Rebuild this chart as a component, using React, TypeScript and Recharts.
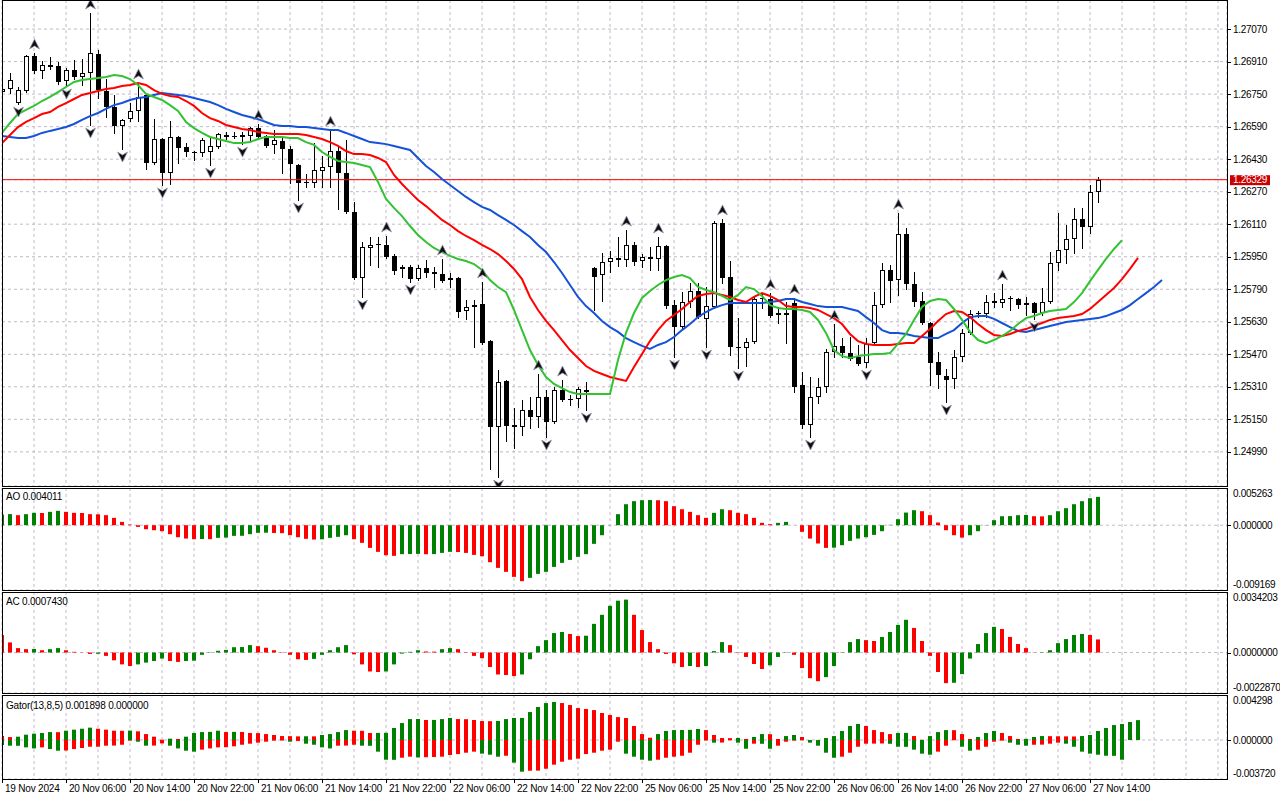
import React from "react";
import { ComposedChart, Bar, Line, XAxis, YAxis, CartesianGrid, Cell, ReferenceLine } from "recharts";

// ---------- price data (H1 bars, 19 Nov 22:00 .. 27 Nov 15:00) ----------
const opens = [
  1.2676, 1.26775, 1.26706, 1.26765, 1.26937, 1.26864, 1.26893, 1.26888, 1.26815, 1.26869,
  1.26834, 1.26854, 1.26947, 1.26765, 1.26687, 1.26593, 1.26627, 1.26667, 1.26746, 1.26411,
  1.26529, 1.26362, 1.26539, 1.2649, 1.26465, 1.2646, 1.26465, 1.2649, 1.26549, 1.26544,
  1.26549, 1.26544, 1.26583, 1.26544, 1.265, 1.26519, 1.2648, 1.26401, 1.26318, 1.26313,
  1.26372, 1.26391, 1.2647, 1.26362, 1.2617, 1.25845, 1.25993, 1.26013, 1.26008, 1.25954,
  1.2589, 1.25899, 1.2584, 1.25894, 1.25875, 1.25865, 1.25835, 1.25845, 1.25683, 1.25703,
  1.25717, 1.25535, 1.25112, 1.25339, 1.25122, 1.25112, 1.25196, 1.25161, 1.2526, 1.25137,
  1.25294, 1.2525, 1.2525, 1.25294, 1.25894, 1.2586, 1.25924, 1.25944, 1.25934, 1.26008,
  1.25929, 1.25949, 1.25939, 1.26003, 1.25712, 1.25604, 1.25727, 1.25781, 1.25644, 1.25703,
  1.26116, 1.2585, 1.25506, 1.25501, 1.2553, 1.25742, 1.25742, 1.25663, 1.25663, 1.25722,
  1.25319, 1.25122, 1.2526, 1.25309, 1.25481, 1.25511, 1.25476, 1.25457, 1.25427, 1.25525,
  1.25712, 1.25885, 1.25835, 1.26062, 1.25816, 1.25732, 1.25624, 1.25432, 1.25363, 1.25348,
  1.25457, 1.25575, 1.25668, 1.25668, 1.25732, 1.25722, 1.25747, 1.25742, 1.25712, 1.25722,
  1.25673, 1.25727, 1.25919, 1.25983, 1.26037, 1.26136, 1.26096, 1.26268,
];
const highs = [
  1.2679, 1.26854, 1.26785, 1.26942, 1.26952, 1.26913, 1.26933, 1.26908, 1.26878, 1.26918,
  1.26923, 1.27149, 1.26967, 1.26824, 1.26746, 1.26627, 1.26706, 1.26805, 1.26751, 1.26627,
  1.26534, 1.26618, 1.26544, 1.26509, 1.2647, 1.26534, 1.26539, 1.26559, 1.26564, 1.26564,
  1.26564, 1.26588, 1.26603, 1.26549, 1.26573, 1.26534, 1.26495, 1.26406, 1.26357, 1.26509,
  1.26445, 1.26573, 1.2649, 1.26524, 1.26219, 1.26022, 1.26047, 1.26047, 1.26052, 1.25963,
  1.25909, 1.25909, 1.25909, 1.25934, 1.25899, 1.25939, 1.2587, 1.2585, 1.25737, 1.25737,
  1.25826, 1.2554, 1.25393, 1.25344, 1.25206, 1.25245, 1.2526, 1.25373, 1.25294, 1.25309,
  1.25343, 1.2527, 1.25309, 1.25334, 1.25899, 1.25968, 1.25978, 1.26047, 1.26081, 1.26022,
  1.25963, 1.25998, 1.26047, 1.26008, 1.25737, 1.25776, 1.25821, 1.25821, 1.25801, 1.26126,
  1.26136, 1.25929, 1.25648, 1.2555, 1.25757, 1.25767, 1.25771, 1.25703, 1.25727, 1.25747,
  1.25383, 1.25358, 1.25353, 1.25496, 1.25619, 1.2555, 1.25555, 1.25516, 1.2555, 1.25776,
  1.25919, 1.25909, 1.26165, 1.26091, 1.25875, 1.25776, 1.25629, 1.25481, 1.25397, 1.25491,
  1.25594, 1.25688, 1.25683, 1.25762, 1.25771, 1.25816, 1.25757, 1.25747, 1.25752, 1.25727,
  1.25796, 1.25973, 1.26165, 1.26106, 1.2619, 1.2619, 1.26303, 1.26342,
];
const lows = [
  1.2675, 1.26755, 1.26701, 1.2676, 1.26854, 1.26829, 1.26873, 1.268, 1.2679, 1.26824,
  1.26795, 1.26598, 1.26731, 1.26637, 1.26559, 1.2648, 1.26618, 1.26618, 1.26382, 1.26406,
  1.26303, 1.26308, 1.26411, 1.26445, 1.26426, 1.26445, 1.26401, 1.26485, 1.26529, 1.26534,
  1.26504, 1.26524, 1.26534, 1.2649, 1.2646, 1.26362, 1.26313, 1.26229, 1.26293, 1.26293,
  1.26293, 1.26293, 1.26185, 1.26165, 1.2584, 1.25752, 1.25909, 1.25899, 1.25944, 1.25865,
  1.2585, 1.25826, 1.25835, 1.2585, 1.25801, 1.25826, 1.25801, 1.25653, 1.25644, 1.25506,
  1.25521, 1.24906, 1.24866, 1.25043, 1.25009, 1.25073, 1.25107, 1.25112, 1.25063, 1.25132,
  1.2524, 1.2522, 1.25211, 1.25196, 1.25688, 1.25732, 1.25875, 1.25904, 1.25904, 1.25909,
  1.25899, 1.25885, 1.25885, 1.25698, 1.25457, 1.25599, 1.25703, 1.25648, 1.25506, 1.25698,
  1.25821, 1.25466, 1.25402, 1.25412, 1.25525, 1.25698, 1.25653, 1.25624, 1.25525, 1.25284,
  1.25107, 1.25063, 1.2523, 1.25284, 1.25457, 1.25457, 1.25442, 1.25417, 1.25407, 1.25516,
  1.25703, 1.25727, 1.25762, 1.25791, 1.25707, 1.25619, 1.25319, 1.25304, 1.25235, 1.25304,
  1.25437, 1.2557, 1.25653, 1.25653, 1.25703, 1.25703, 1.25688, 1.25698, 1.25663, 1.25644,
  1.25663, 1.25722, 1.25885, 1.25919, 1.25968, 1.25993, 1.26067, 1.26219,
];
const closes = [
  1.26775, 1.26819, 1.2677, 1.26937, 1.26864, 1.26893, 1.26883, 1.2681, 1.26869, 1.26834,
  1.26854, 1.26952, 1.2677, 1.26687, 1.26593, 1.26623, 1.26667, 1.26736, 1.26411, 1.26529,
  1.26362, 1.26539, 1.26485, 1.26465, 1.2646, 1.26524, 1.26495, 1.26554, 1.26539, 1.26542,
  1.26539, 1.26583, 1.26539, 1.26495, 1.26524, 1.2648, 1.26406, 1.26313, 1.26313, 1.26377,
  1.26391, 1.2647, 1.26362, 1.2617, 1.25845, 1.25998, 1.26008, 1.26008, 1.25949, 1.2588,
  1.25899, 1.2584, 1.25894, 1.2587, 1.25865, 1.2583, 1.25845, 1.25678, 1.25703, 1.25712,
  1.25525, 1.25112, 1.25334, 1.25117, 1.25112, 1.25196, 1.25161, 1.2526, 1.25137, 1.25294,
  1.25245, 1.25252, 1.25299, 1.25284, 1.2585, 1.25924, 1.25944, 1.25934, 1.26008, 1.25924,
  1.25949, 1.25939, 1.26003, 1.25707, 1.25604, 1.25727, 1.25781, 1.25653, 1.25707, 1.26116,
  1.25845, 1.25506, 1.25501, 1.2553, 1.25742, 1.25745, 1.25658, 1.25673, 1.25673, 1.25309,
  1.25122, 1.2526, 1.25309, 1.25481, 1.25511, 1.25476, 1.25447, 1.25422, 1.25521, 1.25712,
  1.25885, 1.2583, 1.26062, 1.25816, 1.25727, 1.25624, 1.25427, 1.25368, 1.25343, 1.25457,
  1.25575, 1.25668, 1.25673, 1.25727, 1.25722, 1.25742, 1.25745, 1.25712, 1.25722, 1.25673,
  1.25727, 1.25919, 1.25983, 1.26037, 1.26136, 1.26096, 1.26268, 1.26329,
];

// ---------- Alligator (already shifted forward) ----------
const jaw = [
  1.26544, 1.26539, 1.26534, 1.26534, 1.26544, 1.26559, 1.26569, 1.26578, 1.26588, 1.26603,
  1.26623, 1.26642, 1.26657, 1.26677, 1.26696, 1.26706, 1.26721, 1.26731, 1.26736, 1.26746,
  1.26755, 1.26751, 1.26746, 1.26741, 1.26731, 1.26721, 1.26711, 1.26696, 1.26677, 1.26662,
  1.26647, 1.26637, 1.26627, 1.26613, 1.26598, 1.26593, 1.26593, 1.26588, 1.26588, 1.26583,
  1.26578, 1.26573, 1.26573, 1.26559, 1.26544, 1.26529, 1.26514, 1.26509, 1.26504, 1.26495,
  1.26485, 1.26475, 1.26436, 1.26396, 1.26367, 1.26332, 1.26303, 1.26273, 1.26244, 1.26219,
  1.26195, 1.2618, 1.26155, 1.26131, 1.26106, 1.26076, 1.26047, 1.26008, 1.25973, 1.25924,
  1.2587, 1.25811, 1.25752, 1.25707, 1.25673, 1.25634, 1.25604, 1.2558, 1.2555, 1.2553,
  1.25511, 1.25496, 1.25516, 1.2553, 1.25555, 1.25589, 1.25619, 1.25653, 1.25678, 1.25698,
  1.25712, 1.25722, 1.25722, 1.25722, 1.25722, 1.25722, 1.25727, 1.25732, 1.25742, 1.25742,
  1.25727, 1.25717, 1.25707, 1.25703, 1.25703, 1.25703, 1.25693, 1.25683, 1.25653, 1.25624,
  1.25589, 1.25575, 1.25575, 1.2557, 1.2556, 1.25555, 1.2555, 1.2555, 1.2557, 1.25589,
  1.25624, 1.25653, 1.25658, 1.25658, 1.25644, 1.25624, 1.25604, 1.25585, 1.2558, 1.25589,
  1.25599, 1.25609, 1.25619, 1.25629, 1.25634, 1.25639, 1.25644, 1.25648, 1.25658, 1.25673,
  1.25688, 1.25712, 1.25742, 1.25771, 1.25801, 1.25835,
];
const teeth = [
  1.26509, 1.26549, 1.26588, 1.26613, 1.26632, 1.26652, 1.26662, 1.26687, 1.26706, 1.26726,
  1.26746, 1.26755, 1.26765, 1.26775, 1.2678, 1.2679, 1.26795, 1.26805, 1.26795, 1.2677,
  1.26751, 1.26741, 1.26736, 1.26716, 1.26692, 1.26657, 1.26632, 1.26618, 1.26598, 1.26588,
  1.26578, 1.26573, 1.26564, 1.26559, 1.26554, 1.26554, 1.26554, 1.26554, 1.26549, 1.26539,
  1.26529, 1.26514, 1.26495, 1.2647, 1.26455, 1.26455, 1.2645, 1.26436, 1.26416, 1.26352,
  1.26308, 1.26268, 1.26229, 1.26199, 1.26165, 1.26131, 1.26106, 1.26076, 1.26052, 1.26032,
  1.26008, 1.25988, 1.25963, 1.25929, 1.2589, 1.2584, 1.25752, 1.25688, 1.25634, 1.25589,
  1.2554, 1.25491, 1.25452, 1.25412, 1.25388, 1.25373, 1.25358, 1.25348, 1.25339, 1.25407,
  1.25471, 1.25535, 1.25589, 1.25634, 1.25663, 1.25693, 1.25727, 1.25757, 1.25767, 1.25771,
  1.25762, 1.25752, 1.25737, 1.25727, 1.25752, 1.25771, 1.25757, 1.25737, 1.25707, 1.25703,
  1.25703, 1.25698, 1.25688, 1.25668, 1.25648, 1.25619, 1.2557, 1.25535, 1.25521, 1.25516,
  1.25516, 1.25516, 1.25521, 1.25525, 1.25525, 1.2556, 1.25594, 1.25634, 1.25668, 1.25683,
  1.25678, 1.25653, 1.25619, 1.25589, 1.25565, 1.2556, 1.2557, 1.25585, 1.25594, 1.25609,
  1.25624, 1.25639, 1.25648, 1.25653, 1.25658, 1.25668, 1.25693, 1.25727, 1.25762, 1.25796,
  1.2584, 1.2589, 1.25944,
];
const lips = [
  1.26559, 1.26608, 1.26652, 1.26672, 1.26692, 1.26716, 1.26736, 1.2676, 1.26785, 1.2681,
  1.26819, 1.26824, 1.26829, 1.26834, 1.26844, 1.26839, 1.26824, 1.26795, 1.26751, 1.26736,
  1.26721, 1.26696, 1.26667, 1.26613, 1.26583, 1.26559, 1.26539, 1.26529, 1.26519, 1.26509,
  1.26509, 1.26514, 1.26529, 1.26539, 1.26539, 1.26539, 1.26534, 1.26534, 1.26514, 1.265,
  1.26465, 1.26441, 1.26421, 1.26416, 1.26411, 1.26401, 1.26391, 1.26318, 1.26234, 1.2619,
  1.2615, 1.26101, 1.26057, 1.26022, 1.25993, 1.25973, 1.25954, 1.25939, 1.25929, 1.25914,
  1.25885, 1.25835, 1.25801, 1.25776, 1.25688, 1.25589, 1.25491, 1.25417, 1.25358, 1.25324,
  1.25304, 1.25284, 1.25275, 1.25275, 1.25275, 1.25275, 1.25275, 1.25442, 1.25575, 1.25673,
  1.25747, 1.25781, 1.25811, 1.25835, 1.2585, 1.2586, 1.25845, 1.25801, 1.25786, 1.25776,
  1.25757, 1.25737, 1.25762, 1.25801, 1.25791, 1.25757, 1.25712, 1.25698, 1.25693, 1.25693,
  1.25688, 1.25678, 1.25639, 1.25575, 1.25491, 1.25461, 1.25452, 1.25461, 1.25466, 1.25471,
  1.25471, 1.25476, 1.25521, 1.2557, 1.25639, 1.25703, 1.25732, 1.25742, 1.25737, 1.25693,
  1.25639, 1.2558, 1.2554, 1.25525, 1.2554, 1.2556, 1.25585, 1.25619, 1.25648, 1.25658,
  1.25673, 1.25683, 1.25688, 1.25693, 1.25727, 1.25771, 1.2583, 1.25885, 1.25939, 1.25988,
  1.26032,
];

// ---------- Fractals (bar indices) ----------
const fractalUpBars = [4, 11, 17, 32, 41, 48, 55, 60, 67, 70, 78, 82, 90, 96, 99, 104, 112, 125];
const fractalDownBars = [2, 8, 11, 15, 20, 26, 30, 37, 45, 51, 62, 68, 73, 84, 88, 92, 101, 108, 118, 129];

// ---------- Awesome Oscillator ----------
const aoValues = [
  0.0015, 0.00157, 0.00142, 0.00156, 0.00175, 0.00173, 0.00189, 0.00203, 0.00189, 0.00175,
  0.00173, 0.00156, 0.00154, 0.00142, 0.00104, 0.00047, 0.00009, -0.00024, -0.00057, -0.00071,
  -0.00085, -0.00127, -0.0017, -0.00189, -0.00198, -0.00196, -0.00198, -0.00179, -0.00175, -0.00151,
  -0.0015, -0.00127, -0.00108, -0.00106, -0.0011, -0.00113, -0.00142, -0.0017, -0.00193, -0.00203,
  -0.002, -0.00179, -0.00165, -0.00142, -0.00198, -0.0025, -0.00321, -0.00377, -0.00425, -0.00434,
  -0.0041, -0.00408, -0.00406, -0.00411, -0.00409, -0.00392, -0.00377, -0.0038, -0.00392, -0.0042,
  -0.00439, -0.00524, -0.00604, -0.0066, -0.00731, -0.00792, -0.00745, -0.00689, -0.0066, -0.0059,
  -0.00533, -0.00491, -0.00448, -0.0041, -0.00264, -0.00142, 0.00002, 0.00156, 0.00297, 0.0034,
  0.00354, 0.00356, 0.00353, 0.0034, 0.00269, 0.00226, 0.00189, 0.00142, 0.00104, 0.00175,
  0.00226, 0.00212, 0.00175, 0.00156, 0.00104, 0.00033, 0.00014, 0.00033, 0.00047, 0.00001,
  -0.00094, -0.00189, -0.00259, -0.00321, -0.00318, -0.00283, -0.00222, -0.00189, -0.0017, -0.00137,
  -0.00085, 0.00005, 0.00085, 0.00179, 0.00212, 0.00198, 0.00142, 0.00038, -0.00071, -0.00142,
  -0.00175, -0.00142, -0.00085, 0.00003, 0.00071, 0.00127, 0.00129, 0.00142, 0.00144, 0.00127,
  0.00125, 0.00142, 0.00198, 0.00241, 0.00297, 0.0034, 0.00382, 0.00401,
];

// ---------- Accelerator Oscillator ----------
const acValues = [
  0.00099, 0.00057, 0.00025, 0.00019, 0.0002, 0.00013, 0.00019, 0.00025, 0.00013, 0.00004,
  0.00001, -0.00008, -0.00007, -0.00019, -0.00044, -0.00067, -0.00076, -0.00067, -0.00057, -0.00048,
  -0.00034, -0.00048, -0.00053, -0.00048, -0.00046, -0.00013, -0.00002, 0.0001, 0.00015, 0.0003,
  0.00031, 0.00042, 0.00036, 0.00027, 0.00013, -0.00002, -0.00013, -0.00038, -0.00042, -0.00036,
  -0.00013, 0.00013, 0.0003, 0.00042, -0.0001, -0.00067, -0.00107, -0.0011, -0.00107, -0.00067,
  -0.00006, 0.00004, 0.00013, 0.00006, 0.00005, 0.00019, 0.00025, 0.00019, -0.00002, -0.00019,
  -0.00032, -0.00082, -0.00124, -0.00127, -0.00133, -0.00124, -0.00038, 0.00036, 0.0007, 0.0011,
  0.00116, 0.00105, 0.00093, 0.00095, 0.00162, 0.00213, 0.00264, 0.00293, 0.00299, 0.00213,
  0.00127, 0.00059, 0.00019, -0.00008, -0.00061, -0.00082, -0.00076, -0.00082, -0.00076, 0.00008,
  0.00059, 0.00042, -0.00002, -0.00025, -0.00065, -0.00093, -0.00072, -0.00025, 0.00002, -0.00013,
  -0.00088, -0.00145, -0.00162, -0.00139, -0.00076, 0.00002, 0.00059, 0.00076, 0.0007, 0.00065,
  0.00088, 0.00116, 0.00156, 0.00185, 0.00139, 0.00065, -0.00019, -0.0011, -0.00173, -0.00171,
  -0.00122, -0.00034, 0.00048, 0.0011, 0.00145, 0.00133, 0.00088, 0.00048, 0.00025, 0.00001,
  0.00002, 0.00013, 0.00053, 0.00076, 0.00099, 0.00105, 0.00099, 0.00074,
];

// ---------- Gator oscillator ----------
const gatorUpper = [
  0.00038, 0.00028, 0.00032, 0.00051, 0.0006, 0.00067, 0.00076, 0.00075, 0.00089, 0.00099,
  0.00108, 0.00118, 0.00108, 0.00099, 0.00089, 0.00088, 0.0009, 0.00083, 0.00057, 0.00032,
  0.00003, 0.00013, 0.0001, 0.00032, 0.00067, 0.00076, 0.00078, 0.00089, 0.00076, 0.00078,
  0.00077, 0.00067, 0.00066, 0.00057, 0.00048, 0.00038, 0.00037, 0.00035, 0.00036, 0.00035,
  0.00048, 0.00057, 0.00076, 0.00095, 0.00089, 0.00088, 0.00067, 0.00068, 0.00069, 0.00115,
  0.00162, 0.002, 0.00201, 0.00191, 0.00192, 0.002, 0.0021, 0.002, 0.00199, 0.00191,
  0.00181, 0.0018, 0.00182, 0.002, 0.0021, 0.00211, 0.00267, 0.00315, 0.00353, 0.00363,
  0.00353, 0.00334, 0.00305, 0.00296, 0.00286, 0.00258, 0.00239, 0.00219, 0.0021, 0.00134,
  0.00057, 0.00022, 0.00057, 0.00086, 0.00095, 0.00096, 0.00097, 0.00105, 0.00095, 0.00048,
  0.00019, 0.00018, 0.0002, 0.0001, 0.00029, 0.00057, 0.00056, 0.0001, 0.00038, 0.00048,
  0.00029, 0, 0, 0.00019, 0.00038, 0.00086, 0.00134, 0.00153, 0.00134, 0.00095,
  0.00076, 0.00057, 0.00067, 0.00068, 0.00038, 0.00002, 0.00038, 0.00076, 0.00095, 0.00094,
  0.00057, 0.0001, 0.00029, 0.00067, 0.00086, 0.00067, 0.00038, 0.0001, 0.00011, 0.00029,
  0.00038, 0.00037, 0.00036, 0.00035, 0.00034, 0.00038, 0.00048, 0.00086, 0.00115, 0.00143,
  0.00153, 0.00172, 0.0019,
];
const gatorLower = [
  -0.00048, -0.00054, -0.00055, -0.0007, -0.0008, -0.0007, -0.00086, -0.00102, -0.001, -0.00086,
  -0.00076, -0.00064, -0.00064, -0.00054, -0.00053, -0.00045, -0.00006, -0.00016, -0.00054, -0.00053,
  -0.00032, -0.00054, -0.0008, -0.00102, -0.00111, -0.00092, -0.0008, -0.0007, -0.00069, -0.0006,
  -0.00045, -0.00035, -0.00025, -0.00016, -0.00006, -0.00005, -0.00016, -0.0001, -0.00035, -0.00045,
  -0.0007, -0.0008, -0.00054, -0.00053, -0.00045, -0.00054, -0.00055, -0.00111, -0.00188, -0.00189,
  -0.00169, -0.00159, -0.00166, -0.00164, -0.00162, -0.00159, -0.00143, -0.00134, -0.00121, -0.00111,
  -0.0013, -0.0014, -0.00159, -0.0015, -0.00216, -0.00302, -0.00293, -0.00292, -0.00274, -0.00235,
  -0.00207, -0.00188, -0.00178, -0.00134, -0.00121, -0.00102, -0.00092, -0.00016, -0.0013, -0.00159,
  -0.00188, -0.00197, -0.00188, -0.00169, -0.00159, -0.0015, -0.00121, -0.00045, -0.00005, -0.00025,
  -0.00024, -0.00003, -0.00025, -0.00083, -0.00035, -0.00036, -0.00083, -0.00054, -0.00016, -0.00006,
  -0.00003, -0.00025, -0.00054, -0.00121, -0.00169, -0.00159, -0.00121, -0.00064, -0.00035, -0.00034,
  -0.00033, -0.00036, -0.00064, -0.00065, -0.00092, -0.0013, -0.0014, -0.00111, -0.00054, -0.00002,
  -0.00064, -0.00102, -0.00092, -0.00064, -0.00016, -0.00006, -0.00025, -0.00045, -0.00054, -0.00045,
  -0.00044, -0.00035, -0.00025, -0.00035, -0.00064, -0.00111, -0.0013, -0.0014, -0.0015, -0.00151,
  -0.00188,
];

// ---------- axes ----------
const priceTicks = [
  1.2707, 1.2691, 1.2675, 1.2659, 1.2643, 1.2627, 1.2611, 1.2595, 1.2579, 1.2563, 1.2547, 1.2531, 1.2515, 1.2499,
];
const lastPrice = 1.26329;
const timeLabels = [
  "19 Nov 2024", "20 Nov 06:00", "20 Nov 14:00", "20 Nov 22:00", "21 Nov 06:00", "21 Nov 14:00",
  "21 Nov 22:00", "22 Nov 06:00", "22 Nov 14:00", "22 Nov 22:00", "25 Nov 06:00", "25 Nov 14:00",
  "25 Nov 22:00", "26 Nov 06:00", "26 Nov 14:00", "26 Nov 22:00", "27 Nov 06:00", "27 Nov 14:00",
];
const timeLabelBars = [0, 8, 16, 24, 32, 40, 48, 56, 64, 72, 80, 88, 96, 104, 112, 120, 128, 136];
const gridBars = [
  4, 8, 12, 16, 20, 24, 28, 32, 36, 40, 44, 48, 52, 56, 60, 64, 68, 72, 76, 80, 84, 88, 92, 96,
  100, 104, 108, 112, 116, 120, 124, 128, 132, 136, 140, 144, 148, 152,
];
const bottomAxisBars = [0, ...gridBars];
const priceDomain: [number, number] = [1.24822, 1.27213];
const aoDomain: [number, number] = [-0.009169, 0.005263];
const acDomain: [number, number] = [-0.002287, 0.0034203];
const gatorDomain: [number, number] = [-0.00372, 0.004298];
const xDomain: [number, number] = [0, 153.125];

// ---------- styles ----------
const FONT = "'Liberation Sans', Arial, Helvetica, sans-serif";
const GRID = "#c4b8c8";
const GREEN = "#008000";
const RED = "#ff0000";

// ---------- tables built from the arrays ----------
const mainRows = jaw.map((_, i) => ({
  i,
  range: i < opens.length ? [lows[i], highs[i]] : undefined,
  o: opens[i],
  h: highs[i],
  l: lows[i],
  c: closes[i],
  jaw: jaw[i],
  teeth: teeth[i],
  lips: lips[i],
  fu: fractalUpBars.includes(i) ? highs[i] : undefined,
  fd: fractalDownBars.includes(i) ? lows[i] : undefined,
}));
const aoRows = aoValues.map((v, i) => ({ i, ao: v }));
const acRows = acValues.map((v, i) => ({ i, ac: v }));
const gatorRows = gatorUpper.map((v, i) => ({ i, gu: v, gl: gatorLower[i] }));

// ---------- custom renderers ----------
const Candle = (props: any) => {
  const { x, y, width, height, payload } = props;
  if (!payload || payload.o == null || !Number.isFinite(y) || !Number.isFinite(height) || !Number.isFinite(x)) return <g />;
  const { o, h, l, c } = payload;
  const span = h - l;
  const yOf = (p: number) => y + (span > 0 ? ((h - p) / span) * height : 0);
  const cx = Math.round(x + width / 2);
  const yt = Math.round(yOf(Math.max(o, c)));
  const yb = Math.max(Math.round(yOf(Math.min(o, c))), yt + 1);
  const bull = c >= o;
  const wick = (
    <line x1={cx + 0.5} x2={cx + 0.5} y1={Math.round(y)} y2={Math.round(y + height) + 1} stroke="#000" strokeWidth={1} />
  );
  if (!bull || yb - yt <= 2) {
    return (
      <g>
        {wick}
        <rect x={cx - 2} y={yt} width={5} height={yb - yt} fill="#000" />
      </g>
    );
  }
  return (
    <g>
      {wick}
      <rect x={cx - 1.5} y={yt + 0.5} width={4} height={yb - yt - 1} fill="#fff" stroke="#000" strokeWidth={1} />
    </g>
  );
};

const FractalUp = (props: any) => {
  const { cx, cy, index } = props;
  if (cx == null || cy == null || !Number.isFinite(cy)) return <g key={`fu-${index}`} />;
  const x = Math.round(cx) + 0.5;
  const t = cy - 14;
  return (
    <path
      key={`fu-${index}`}
      d={`M${x},${t} L${x + 5},${t + 10} L${x},${t + 7} L${x - 5},${t + 10} Z`}
      fill="#101010"
      stroke="#9aa0b8"
      strokeWidth={0.7}
      strokeLinejoin="round"
    />
  );
};

const FractalDown = (props: any) => {
  const { cx, cy, index } = props;
  if (cx == null || cy == null || !Number.isFinite(cy)) return <g key={`fd-${index}`} />;
  const x = Math.round(cx) + 0.5;
  const b = cy + 13;
  return (
    <path
      key={`fd-${index}`}
      d={`M${x},${b} L${x + 5},${b - 10} L${x},${b - 7} L${x - 5},${b - 10} Z`}
      fill="#101010"
      stroke="#9aa0b8"
      strokeWidth={0.7}
      strokeLinejoin="round"
    />
  );
};

const PriceTick = (props: any) => {
  const { x, y, payload } = props;
  const v: number = payload.value;
  const label = v.toFixed(5);
  if (Math.abs(v - lastPrice) < 1e-9) {
    return (
      <g>
        <rect x={x - 3} y={y - 4.5} width={40} height={10} fill="#cc0000" />
        <text x={x} y={y + 3.5} fontSize={10} fill="#fff" fontFamily={FONT} letterSpacing={-0.3}>
          {label}
        </text>
      </g>
    );
  }
  const ly = Math.round(y) + 0.5;
  return (
    <g>
      <line x1={x - 6} x2={x - 2} y1={ly} y2={ly} stroke="#000" strokeWidth={1} />
      <text x={x} y={y + 3.5} fontSize={10} fill="#000" fontFamily={FONT} letterSpacing={-0.3}>
        {label}
      </text>
    </g>
  );
};

const PaneTick = (props: any) => {
  const { x, y, payload, decimals, lo, hi } = props;
  const v: number = payload.value;
  let ty = y + 3.5;
  if (Math.abs(v - hi) < 1e-12) ty = y + 8.5;
  else if (Math.abs(v - lo) < 1e-12) ty = y - 2;
  const ly = Math.round(y) + 0.5;
  return (
    <g>
      {v === 0 ? <line x1={x - 6} x2={x - 2} y1={ly} y2={ly} stroke="#000" strokeWidth={1} /> : null}
      <text x={x} y={ty} fontSize={10} fill="#000" fontFamily={FONT} letterSpacing={-0.3}>
        {v.toFixed(decimals)}
      </text>
    </g>
  );
};

// bottom time axis: the axis top edge is the pane's plot bottom (passed as plotBottom)
const TimeTick = (props: any) => {
  const { x, payload, plotBottom } = props;
  const k = timeLabelBars.indexOf(payload.value);
  if (k < 0) return <g />;
  const lx = Math.round(x) + 0.5;
  return (
    <g>
      <line x1={lx} x2={lx} y1={plotBottom} y2={plotBottom + 4} stroke="#000" strokeWidth={1} />
      <text x={x + 3} y={plotBottom + 13} fontSize={10} fill="#000" fontFamily={FONT} letterSpacing={-0.2}>
        {timeLabels[k]}
      </text>
    </g>
  );
};

const colorUp = (vals: number[], i: number, first: string) => (i === 0 ? first : vals[i] > vals[i - 1] ? GREEN : RED);
const colorAbsUp = (vals: number[], i: number, first: string) =>
  i === 0 ? first : Math.abs(vals[i]) > Math.abs(vals[i - 1]) ? GREEN : RED;

const W = 1280;
const AXIS_W = 53;
const GATOR_H = 105;
const TIME_AXIS_H = 21;

export default function App() {
  return (
    <div
      style={{
        position: "fixed",
        left: 0,
        top: 0,
        width: 1280,
        height: 800,
        background: "#fff",
        overflow: "hidden",
        fontFamily: FONT,
      }}
    >
      {/* main price pane */}
      <div style={{ position: "absolute", left: 0, top: 0 }}>
        <ComposedChart width={W} height={487} data={mainRows} margin={{ top: 0, right: 0, bottom: 1, left: 2 }}>
          <CartesianGrid stroke={GRID} strokeDasharray="3 3" />
          <XAxis dataKey="i" type="number" domain={xDomain} ticks={gridBars} interval={0} allowDataOverflow hide />
          <YAxis
            orientation="right"
            width={AXIS_W}
            type="number"
            domain={priceDomain}
            allowDataOverflow
            ticks={[...priceTicks, lastPrice]}
            interval={0}
            tick={<PriceTick />}
            tickLine={false}
            axisLine={false}
            tickSize={3}
            tickMargin={3}
          />
          <ReferenceLine y={lastPrice} stroke="#ff0000" strokeWidth={1} />
          <Bar dataKey="range" barSize={5} shape={<Candle />} isAnimationActive={false} />
          <Line dataKey="jaw" stroke="#1452d8" strokeWidth={2} dot={false} activeDot={false} isAnimationActive={false} />
          <Line dataKey="teeth" stroke="#ff0000" strokeWidth={2} dot={false} activeDot={false} isAnimationActive={false} />
          <Line dataKey="lips" stroke="#32c232" strokeWidth={2} dot={false} activeDot={false} isAnimationActive={false} />
          <Line dataKey="fu" stroke="none" dot={FractalUp} activeDot={false} isAnimationActive={false} legendType="none" />
          <Line dataKey="fd" stroke="none" dot={FractalDown} activeDot={false} isAnimationActive={false} legendType="none" />
        </ComposedChart>
      </div>

      {/* AO pane */}
      <div style={{ position: "absolute", left: 0, top: 488 }}>
        <ComposedChart width={W} height={103} data={aoRows} margin={{ top: 0, right: 0, bottom: 1, left: 2 }}>
          <CartesianGrid stroke={GRID} strokeDasharray="3 3" />
          <XAxis dataKey="i" type="number" domain={xDomain} ticks={gridBars} interval={0} allowDataOverflow hide />
          <YAxis
            orientation="right"
            width={AXIS_W}
            type="number"
            domain={aoDomain}
            allowDataOverflow
            ticks={[aoDomain[0], 0, aoDomain[1]]}
            interval={0}
            tick={<PaneTick decimals={6} lo={aoDomain[0]} hi={aoDomain[1]} />}
            tickLine={false}
            axisLine={false}
            tickSize={3}
            tickMargin={3}
          />
          <Bar dataKey="ao" barSize={4} isAnimationActive={false}>
            {aoRows.map((r, k) => (
              <Cell key={`ao${k}`} fill={colorUp(aoValues, k, GREEN)} />
            ))}
          </Bar>
        </ComposedChart>
      </div>

      {/* AC pane */}
      <div style={{ position: "absolute", left: 0, top: 592 }}>
        <ComposedChart width={W} height={102} data={acRows} margin={{ top: 0, right: 0, bottom: 1, left: 2 }}>
          <CartesianGrid stroke={GRID} strokeDasharray="3 3" />
          <XAxis dataKey="i" type="number" domain={xDomain} ticks={gridBars} interval={0} allowDataOverflow hide />
          <YAxis
            orientation="right"
            width={AXIS_W}
            type="number"
            domain={acDomain}
            allowDataOverflow
            ticks={[acDomain[0], 0, acDomain[1]]}
            interval={0}
            tick={<PaneTick decimals={7} lo={acDomain[0]} hi={acDomain[1]} />}
            tickLine={false}
            axisLine={false}
            tickSize={3}
            tickMargin={3}
          />
          <Bar dataKey="ac" barSize={4} isAnimationActive={false}>
            {acRows.map((r, k) => (
              <Cell key={`ac${k}`} fill={colorUp(acValues, k, RED)} />
            ))}
          </Bar>
        </ComposedChart>
      </div>

      {/* Gator pane + time axis */}
      <div style={{ position: "absolute", left: 0, top: 695 }}>
        <ComposedChart
          width={W}
          height={GATOR_H}
          data={gatorRows}
          stackOffset="sign"
          margin={{ top: 0, right: 0, bottom: 0, left: 2 }}
        >
          <CartesianGrid stroke={GRID} strokeDasharray="3 3" />
          <XAxis
            dataKey="i"
            type="number"
            domain={xDomain}
            allowDataOverflow
            ticks={bottomAxisBars}
            interval={0}
            height={TIME_AXIS_H}
            tick={<TimeTick plotBottom={GATOR_H - TIME_AXIS_H} />}
            tickLine={false}
            axisLine={false}
            tickSize={4}
            tickMargin={0}
          />
          <YAxis
            orientation="right"
            width={AXIS_W}
            type="number"
            domain={gatorDomain}
            allowDataOverflow
            ticks={[gatorDomain[0], 0, gatorDomain[1]]}
            interval={0}
            tick={<PaneTick decimals={6} lo={gatorDomain[0]} hi={gatorDomain[1]} />}
            tickLine={false}
            axisLine={false}
            tickSize={3}
            tickMargin={3}
          />
          <Bar dataKey="gu" stackId="g" barSize={4} isAnimationActive={false}>
            {gatorRows.map((r, k) => (
              <Cell key={`gu${k}`} fill={colorUp(gatorUpper, k, RED)} />
            ))}
          </Bar>
          <Bar dataKey="gl" stackId="g" barSize={4} isAnimationActive={false}>
            {gatorRows.map((r, k) => (
              <Cell key={`gl${k}`} fill={k < gatorLower.length ? colorAbsUp(gatorLower, k, GREEN) : RED} />
            ))}
          </Bar>
        </ComposedChart>
      </div>

      {/* frames and pane captions */}
      <svg width={1280} height={800} style={{ position: "absolute", left: 0, top: 0, pointerEvents: "none" }}>
        <g fill="none" stroke="#000" strokeWidth={1}>
          <rect x={2.5} y={0.5} width={1225} height={486} />
          <rect x={2.5} y={488.5} width={1225} height={102} />
          <rect x={2.5} y={592.5} width={1225} height={101} />
          <rect x={2.5} y={695.5} width={1225} height={84} />
        </g>
        <g fontFamily={FONT} fontSize={10} fill="#000" letterSpacing={-0.2}>
          <text x={6} y={500}>AO 0.004011</text>
          <text x={6} y={604.5}>AC 0.0007430</text>
          <text x={6} y={708.5}>Gator(13,8,5) 0.001898 0.000000</text>
        </g>
      </svg>
    </div>
  );
}
